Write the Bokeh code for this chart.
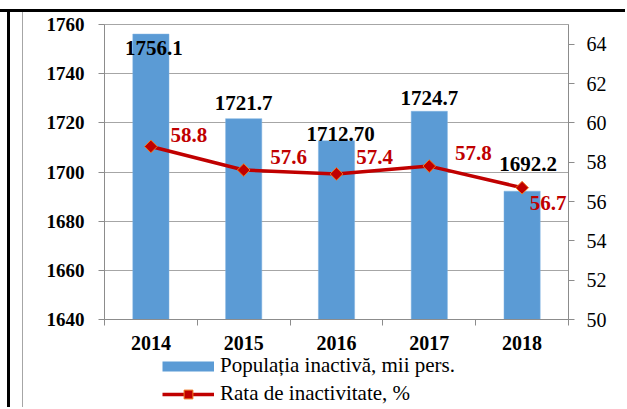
import numpy as np
from bokeh.plotting import figure
from bokeh.layouts import column
from bokeh.models import (Range1d, LinearAxis, FixedTicker, ColumnDataSource,
                          Legend, LegendItem, LabelSet)
from bokeh.embed import file_html
from bokeh.resources import INLINE

# ---------------- data ----------------
years = ["2014", "2015", "2016", "2017", "2018"]
population = [1756.1, 1721.7, 1712.70, 1724.7, 1692.2]
population_text = ["1756.1", "1721.7", "1712.70", "1724.7", "1692.2"]
rate = [58.8, 57.6, 57.4, 57.8, 56.7]
rate_text = ["58.8", "57.6", "57.4", "57.8", "56.7"]
left_ticks = [1640, 1660, 1680, 1700, 1720, 1740, 1760]
right_ticks = [50, 52, 54, 56, 58, 60, 62, 64]
series_names = ["Populația inactivă, mii pers.", "Rata de inactivitate, %"]

# label offsets (screen px, x right / y up)
pop_dx = [3, 0, 4, 0, 6]
pop_dy = [-14, 16, 7, 13, 27]
rate_dx = [38, 45, 38, 44, 26]
rate_dy = [11, 13, 17, 13, -15]

BAR = "#5B9BD5"
RED = "#C00000"
GREY = "#A6A6A6"
AXIS = "#8C8C8C"
FONT = "Liberation Serif"

W = 625
H1 = 355          # main chart
H2 = 60           # legend strip (overlaps the main chart by 8px)
xs = np.arange(len(years)) + 0.5

p = figure(width=W, height=H1, output_backend="svg", toolbar_location=None,
           x_range=Range1d(0, len(years)),
           y_range=Range1d(left_ticks[0], left_ticks[-1]),
           min_border_left=104, min_border_right=W - 568,
           min_border_top=24, min_border_bottom=H1 - 319)
p.extra_y_ranges = {"rate": Range1d(50, 65)}
p.outline_line_color = GREY
p.background_fill_color = "white"
p.border_fill_alpha = 0

src = ColumnDataSource(dict(x=xs, pop=population, pop_text=population_text,
                            rate=rate, rate_text=rate_text,
                            pdx=pop_dx, pdy=pop_dy, rdx=rate_dx, rdy=rate_dy))

bars = p.vbar(x="x", top="pop", bottom=left_ticks[0], width=0.39, source=src,
              fill_color=BAR, line_color="#7FB2E0", line_width=0.5)
line = p.line(x="x", y="rate", source=src, y_range_name="rate",
              line_color=RED, line_width=3.5)
marks = p.scatter(x="x", y="rate", source=src, y_range_name="rate",
                  marker="square", angle=np.pi / 4, size=9,
                  fill_color=RED, line_color="#F07820", line_width=1)

p.add_layout(LabelSet(x="x", y="pop", text="pop_text", source=src,
                      x_offset="pdx", y_offset="pdy",
                      text_align="center", text_baseline="middle",
                      text_font=FONT, text_font_style="bold",
                      text_font_size="21px", text_color="black"))
p.add_layout(LabelSet(x="x", y="rate", text="rate_text", source=src,
                      y_range_name="rate",
                      x_offset="rdx", y_offset="rdy",
                      text_align="center", text_baseline="middle",
                      text_font=FONT, text_font_style="bold",
                      text_font_size="21px", text_color=RED))

# axes
p.xgrid.grid_line_color = None
p.ygrid.ticker = FixedTicker(ticks=left_ticks)
p.ygrid.grid_line_color = GREY

ya = p.yaxis[0]
ya.ticker = FixedTicker(ticks=left_ticks)
ya.minor_tick_line_color = None
ya.major_tick_in = 0
ya.major_tick_out = 6
ya.axis_line_color = AXIS
ya.major_tick_line_color = AXIS
ya.major_label_text_font = FONT
ya.major_label_text_font_style = "bold"
ya.major_label_text_font_size = "19px"
ya.major_label_text_color = "black"
ya.major_label_standoff = 14

ra = LinearAxis(y_range_name="rate", ticker=FixedTicker(ticks=right_ticks))
ra.minor_tick_line_color = None
ra.major_tick_in = 0
ra.major_tick_out = 6
ra.axis_line_color = AXIS
ra.major_tick_line_color = AXIS
ra.major_label_text_font = FONT
ra.major_label_text_font_size = "20px"
ra.major_label_text_color = "black"
ra.major_label_standoff = 12
p.add_layout(ra, "right")

xa = p.xaxis[0]
xa.ticker = FixedTicker(ticks=list(xs), minor_ticks=list(range(len(years) + 1)))
xa.major_label_overrides = {float(x): y for x, y in zip(xs, years)}
xa.major_tick_in = 0
xa.major_tick_out = 0
xa.minor_tick_in = 0
xa.minor_tick_out = 6
xa.axis_line_color = AXIS
xa.minor_tick_line_color = AXIS
xa.major_label_text_font = FONT
xa.major_label_text_font_style = "bold"
xa.major_label_text_font_size = "20px"
xa.major_label_text_color = "black"
xa.major_label_standoff = 10

# ---------------- legend strip ----------------
lp = figure(width=W, height=H2, output_backend="svg", toolbar_location=None,
            x_range=Range1d(0, W), y_range=Range1d(0, H2),
            min_border_left=0, min_border_right=0,
            min_border_top=0, min_border_bottom=0)
lp.axis.visible = False
lp.grid.visible = False
lp.outline_line_color = None
lp.background_fill_alpha = 0
lp.border_fill_alpha = 0
lp.styles = {"margin-top": "-8px"}

nan = [float("nan")]
sw_bar = lp.line(x=nan, y=nan, line_color=BAR, line_width=10)
sw_line = lp.line(x=nan, y=nan, line_color=RED, line_width=3.5)
sw_mark = lp.scatter(x=nan, y=nan, marker="square", angle=np.pi / 4, size=9,
                     fill_color=RED, line_color="#F07820", line_width=1)

legend = Legend(items=[LegendItem(label=series_names[0], renderers=[sw_bar]),
                       LegendItem(label=series_names[1], renderers=[sw_line, sw_mark])],
                location=(58, 1), orientation="vertical",
                glyph_width=52, glyph_height=22, label_height=20,
                spacing=3, padding=0, margin=0, label_standoff=6,
                label_text_font=FONT, label_text_font_size="21px",
                label_text_color="black",
                border_line_color=None, background_fill_alpha=0)
lp.add_layout(legend, "center")

layout = column(p, lp, spacing=0)
layout.styles = {
    "background": ("linear-gradient(#000,#000) 0px 9px / 100% 3px no-repeat, "
                   "linear-gradient(#000,#000) 7px 9px / 3px 100% no-repeat, "
                   "linear-gradient(#A6A6A6,#A6A6A6) 22px 12px / 1px 100% no-repeat, "
                   "#ffffff")
}

open("out.html", "w").write(file_html(layout, INLINE))
